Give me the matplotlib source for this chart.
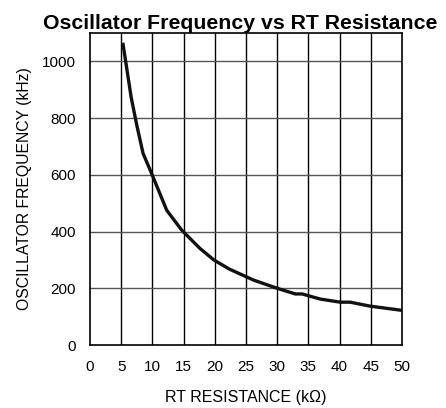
import numpy as np
import matplotlib.pyplot as plt

plt.rcParams['font.family'] = ['Liberation Sans', 'DejaVu Sans']

# Curve (kOhm, kHz)
rt_kohm = [5.3, 6.6, 7.5, 8.5, 10.0, 12.3, 14.7, 17.6, 19.9, 22.4, 24.5, 26.2,
           30.0, 32.9, 34.0, 36.9, 40.1, 41.7, 44.9, 49.7]
freq_khz = [1060, 873, 775, 676, 598, 475, 405, 341, 299, 267, 246, 229,
            200, 180, 180, 162, 151, 151, 137, 123]

x_ticks = np.arange(0, 51, 5)
y_ticks = [0, 200, 400, 600, 800, 1000]

fig = plt.figure(figsize=(4.46, 4.08), dpi=100)
ax = fig.add_axes([0.2018, 0.1544, 0.6995, 0.7646])

ax.plot(rt_kohm, freq_khz, color='#111111', lw=2.4, solid_joinstyle='round')

ax.set_xlim(0, 50)
ax.set_ylim(0, 1100)
ax.set_xticks(x_ticks)
ax.set_yticks(y_ticks)
for x in x_ticks[1:-1]:
    ax.axvline(x, color='black', lw=1, zorder=0)
for y in y_ticks[1:]:
    ax.axhline(y, color='#555555', lw=1, zorder=0)
ax.tick_params(length=0, labelsize=11, pad=10)
ax.tick_params(axis='x', pad=11)
for s in ax.spines.values():
    s.set_linewidth(1.2)

ax.set_xlabel('RT RESISTANCE (k\u03a9)', fontsize=11.5, labelpad=11)
ax.set_ylabel('OSCILLATOR FREQUENCY (kHz)', fontsize=11.3, labelpad=7)
ax.set_title('Oscillator Frequency vs RT Resistance', fontsize=15.3, fontweight='bold',
             pad=3, x=0.48)

fig.savefig('out.png', dpi=100)
